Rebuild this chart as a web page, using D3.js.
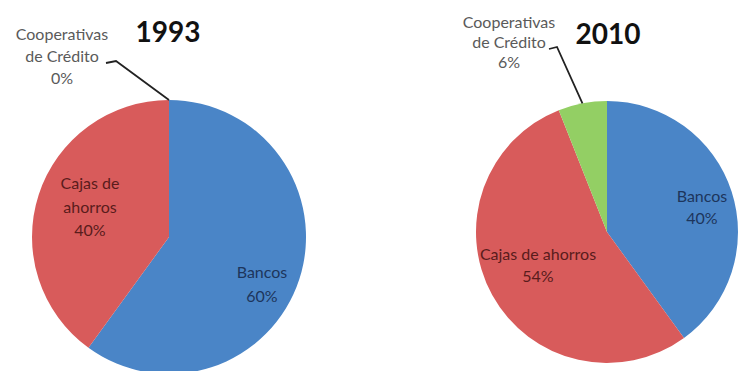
<!DOCTYPE html>
<html>
<head>
<meta charset="utf-8">
<script src="https://cdn.jsdelivr.net/npm/d3@7/dist/d3.min.js"></script>
<style>
  html, body { margin: 0; padding: 0; background: #ffffff; }
  svg { display: block; }
  text { font-family: Lato, "Open Sans", sans-serif; }
</style>
</head>
<body>
<svg id="chart" width="739" height="371"></svg>
<script>
// Market share of Spanish credit institutions, by type
const categories = ["Bancos", "Cajas de ahorros", "Cooperativas de Crédito"];
const years = ["1993", "2010"];
const share1993 = [60, 40, 0];
const share2010 = [40, 54, 6];

const svg = d3.select("#chart");

const fill = d3.scaleOrdinal()
  .domain(categories)
  .range(["#4a85c7", "#d85b5b", "#93cf64"]);
const inkColor = d3.scaleOrdinal()
  .domain(categories)
  .range(["#1d355c", "#5a1c1c", "#5a5a5a"]);

// Layout for each pie: centre, radius, title anchor, and where each label sits
const panels = [
  {
    year: years[0], values: share1993,
    cx: 169, cy: 237, r: 137, lineH: 23.5,
    title: { x: 168, y: 42 },
    labels: [
      { lines: ["Bancos"], dx: 93, dy: 41 },
      { lines: ["Cajas de", "ahorros"], dx: -79, dy: -48 },
      { lines: ["Cooperativas", "de Crédito"], abs: { x: 62, y: 40 }, lineH: 22,
        leader: [[106, 63], [116, 61]] }
    ]
  },
  {
    year: years[1], values: share2010,
    cx: 607, cy: 232, r: 131, lineH: 22,
    title: { x: 608, y: 44 },
    labels: [
      { lines: ["Bancos"], dx: 95, dy: -30 },
      { lines: ["Cajas de ahorros"], dx: -69, dy: 28 },
      { lines: ["Cooperativas", "de Crédito"], abs: { x: 509, y: 28 }, lineH: 20,
        leader: [[549, 49], [557, 47]] }
    ]
  }
];

const pie = d3.pie().sort(null).value(d => d.value);

panels.forEach(p => {
  const data = categories.map((c, i) => ({ category: c, value: p.values[i] }));
  const arcs = pie(data);
  const arc = d3.arc().innerRadius(0).outerRadius(p.r);

  const g = svg.append("g").attr("transform", `translate(${p.cx},${p.cy})`);

  g.selectAll("path.slice")
    .data(arcs.filter(a => a.data.value > 0))
    .join("path")
    .attr("class", "slice")
    .attr("d", arc)
    .attr("fill", d => fill(d.data.category));

  // Year title
  svg.append("text")
    .attr("x", p.title.x).attr("y", p.title.y)
    .attr("text-anchor", "middle")
    .attr("font-size", 28).attr("font-weight", 700)
    .attr("fill", "#111")
    .text(p.year);

  arcs.forEach((a, i) => {
    const spec = p.labels[i];
    const x = spec.abs ? spec.abs.x : p.cx + spec.dx;
    const y = spec.abs ? spec.abs.y : p.cy + spec.dy;
    const lh = spec.lineH || p.lineH;
    const lines = spec.lines.concat([a.data.value + "%"]);
    const t = svg.append("text")
      .attr("text-anchor", "middle")
      .attr("font-size", 16)
      .attr("fill", inkColor(a.data.category));
    lines.forEach((ln, k) => {
      t.append("tspan").attr("x", x).attr("y", y + k * lh).text(ln);
    });

    if (spec.leader) {
      // Leader from the label to the start of the slice on the rim
      const ang = (a.startAngle + a.endAngle) / 2;
      const rim = [p.cx + Math.sin(ang) * p.r, p.cy - Math.cos(ang) * p.r];
      svg.append("path")
        .attr("d", d3.line()(spec.leader.concat([rim])))
        .attr("fill", "none")
        .attr("stroke", "#222")
        .attr("stroke-width", 1.8);
    }
  });
});
</script>
</body>
</html>
